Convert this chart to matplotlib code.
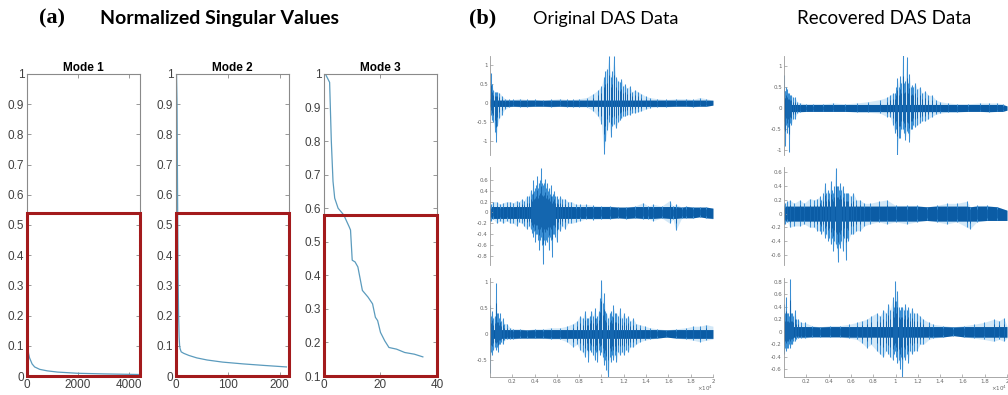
import matplotlib.pyplot as plt
import matplotlib.ticker as mticker
from matplotlib.patches import Rectangle
import numpy as np

# ---- (a) normalized singular values of the three unfoldings ----
mode_titles = ["Mode 1", "Mode 2", "Mode 3"]
mode1_idx = [1, 2, 4, 10, 30, 60, 100, 200, 300, 500, 800, 1200, 2000, 3000, 4400]
mode1_val = [1.0, 0.75, 0.4, 0.15, 0.1, 0.075, 0.06, 0.04, 0.03, 0.022, 0.017,
             0.013, 0.009, 0.007, 0.005]
mode2_idx = [1, 2, 3, 4, 5, 6, 7, 8, 10, 15, 25, 40, 60, 90, 130, 170, 213]
mode2_val = [1.0, 0.9, 0.6, 0.35, 0.2, 0.13, 0.1, 0.09, 0.08, 0.075, 0.068,
             0.06, 0.053, 0.046, 0.04, 0.035, 0.03]
mode3_idx = [0.5, 2, 2.6, 3.2, 3.8, 5, 7, 8.9, 9.4, 10, 11, 12, 13.6, 15.6,
             17.2, 18.2, 19, 20, 21.5, 23, 25.7, 28.6, 32, 35]
mode3_val = [1.0, 0.975, 0.8, 0.68, 0.63, 0.6, 0.58, 0.545, 0.535, 0.445, 0.44,
             0.425, 0.355, 0.335, 0.315, 0.275, 0.265, 0.23, 0.205, 0.185, 0.18,
             0.17, 0.165, 0.157]
mode_xmax = [4450, 218, 40]
mode_xticks = [[0, 2000, 4000], [0, 100, 200], [0, 20, 40]]
mode_ymin = [0, 0, 0.1]
kept_top = [0.54, 0.54, 0.58]   # upper edge of the retained-energy box

# ---- (b) DAS traces: (time x1e4, upper peak, lower peak) ----
orig_1 = [(0.0, 0.1, -0.1), (0.006, 0.8, -0.3), (0.015, 0.5, -0.45), (0.030, 0.35, -0.5),
          (0.045, 0.3, -0.75), (0.054, 0.3, -1.03), (0.066, 0.3, -0.6), (0.084, 0.28, -0.4),
          (0.104, 0.2, -0.3), (0.134, 0.12, -0.15), (0.17, 0.1, -0.1), (0.209, 0.1, -0.08),
          (0.27, 0.12, -0.1), (0.328, 0.1, -0.1), (0.40, 0.1, -0.08), (0.478, 0.08, -0.08),
          (0.55, 0.1, -0.1), (0.627, 0.12, -0.08), (0.69, 0.1, -0.1), (0.746, 0.1, -0.1),
          (0.80, 0.12, -0.1), (0.866, 0.15, -0.1), (0.925, 0.25, -0.2), (0.970, 0.35, -0.35),
          (1.000, 0.45, -0.55), (1.021, 0.7, -1.35), (1.036, 0.85, -1.0), (1.051, 0.9, -0.7),
          (1.066, 1.26, -0.5), (1.081, 0.7, -0.9), (1.096, 0.85, -0.6), (1.110, 1.24, -0.55),
          (1.128, 0.7, -0.65), (1.149, 0.6, -0.5), (1.165, 0.55, -0.45), (1.179, 0.65, -0.4),
          (1.195, 0.45, -0.35), (1.209, 0.5, -0.35), (1.230, 0.4, -0.3), (1.254, 0.45, -0.3),
          (1.275, 0.3, -0.25), (1.299, 0.35, -0.25), (1.330, 0.3, -0.22), (1.358, 0.25, -0.2),
          (1.40, 0.18, -0.15), (1.433, 0.15, -0.12), (1.50, 0.12, -0.1), (1.582, 0.1, -0.1),
          (1.67, 0.12, -0.08), (1.761, 0.12, -0.08), (1.82, 0.1, -0.1), (1.881, 0.15, -0.08),
          (1.94, 0.12, -0.08), (2.0, 0.08, -0.05)]
orig_2 = [(0.0, 0.12, -0.15), (0.006, 0.15, -0.15), (0.03, 0.2, -0.12), (0.06, 0.2, -0.2),
          (0.09, 0.15, -0.15), (0.119, 0.18, -0.2), (0.15, 0.2, -0.15), (0.179, 0.2, -0.2),
          (0.21, 0.18, -0.2), (0.239, 0.22, -0.25), (0.26, 0.2, -0.18), (0.284, 0.25, -0.2),
          (0.305, 0.22, -0.25), (0.328, 0.3, -0.3), (0.346, 0.3, -0.25), (0.364, 0.42, -0.3),
          (0.376, 0.35, -0.38), (0.388, 0.6, -0.45), (0.397, 0.4, -0.35), (0.406, 0.45, -0.55),
          (0.415, 0.5, -0.4), (0.424, 0.68, -0.4), (0.433, 0.45, -0.5), (0.442, 0.55, -0.7),
          (0.450, 0.6, -0.5), (0.457, 0.83, -0.45), (0.465, 0.55, -0.6), (0.472, 0.5, -0.96),
          (0.481, 0.55, -0.5), (0.490, 0.62, -0.6), (0.498, 0.45, -0.5), (0.507, 0.55, -0.55),
          (0.516, 0.4, -0.45), (0.525, 0.45, -0.7), (0.534, 0.35, -0.45), (0.543, 0.5, -0.5),
          (0.555, 0.3, -0.82), (0.564, 0.35, -0.4), (0.573, 0.4, -0.4), (0.585, 0.3, -0.45),
          (0.597, 0.3, -0.55), (0.612, 0.25, -0.3), (0.627, 0.3, -0.35), (0.65, 0.25, -0.25),
          (0.672, 0.25, -0.3), (0.70, 0.2, -0.2), (0.731, 0.2, -0.2), (0.77, 0.15, -0.18),
          (0.806, 0.15, -0.15), (0.86, 0.15, -0.12), (0.925, 0.13, -0.13), (1.0, 0.12, -0.12),
          (1.075, 0.12, -0.12), (1.15, 0.1, -0.1), (1.224, 0.1, -0.12), (1.3, 0.12, -0.1),
          (1.373, 0.18, -0.12), (1.42, 0.12, -0.12), (1.463, 0.15, -0.15), (1.54, 0.12, -0.1),
          (1.612, 0.22, -0.2), (1.64, 0.12, -0.12), (1.666, 0.15, -0.33), (1.72, 0.1, -0.1),
          (1.761, 0.12, -0.1), (1.82, 0.1, -0.1), (1.881, 0.1, -0.08), (1.94, 0.1, -0.1),
          (2.0, 0.08, -0.12)]
orig_3 = [(0.0, 0.55, -0.75), (0.008, 0.35, -0.35), (0.015, 0.45, -0.4), (0.030, 0.3, -0.3),
          (0.042, 0.35, -0.25), (0.054, 0.98, -0.3), (0.062, 0.4, -0.25), (0.069, 0.4, -0.35),
          (0.080, 0.3, -0.2), (0.090, 0.4, -0.2), (0.100, 0.25, -0.15), (0.113, 0.3, -0.2),
          (0.13, 0.2, -0.12), (0.149, 0.2, -0.1), (0.18, 0.12, -0.1), (0.209, 0.1, -0.1),
          (0.27, 0.1, -0.08), (0.328, 0.08, -0.08), (0.40, 0.1, -0.08), (0.478, 0.1, -0.08),
          (0.55, 0.12, -0.1), (0.627, 0.12, -0.1), (0.69, 0.15, -0.15), (0.746, 0.2, -0.25),
          (0.78, 0.25, -0.2), (0.806, 0.35, -0.3), (0.83, 0.3, -0.35), (0.851, 0.45, -0.45),
          (0.866, 0.3, -0.3), (0.881, 0.3, -0.55), (0.895, 0.35, -0.3), (0.910, 0.45, -0.35),
          (0.925, 0.35, -0.4), (0.940, 0.5, -0.5), (0.952, 0.3, -0.35), (0.964, 0.35, -0.55),
          (0.975, 0.45, -0.3), (0.985, 0.7, -0.4), (1.0, 1.05, -0.35), (1.010, 0.6, -0.45),
          (1.021, 0.8, -0.6), (1.033, 0.45, -0.5), (1.045, 0.4, -0.7), (1.063, 0.3, -0.85),
          (1.072, 0.4, -0.45), (1.081, 0.45, -0.55), (1.092, 0.35, -0.4), (1.104, 0.55, -0.5),
          (1.119, 0.4, -0.4), (1.134, 0.4, -0.55), (1.149, 0.35, -0.35), (1.164, 0.5, -0.4),
          (1.18, 0.3, -0.35), (1.2, 0.4, -0.4), (1.22, 0.3, -0.3), (1.239, 0.35, -0.35),
          (1.26, 0.25, -0.25), (1.284, 0.3, -0.25), (1.31, 0.2, -0.2), (1.343, 0.18, -0.15),
          (1.39, 0.15, -0.12), (1.433, 0.12, -0.1), (1.50, 0.1, -0.08), (1.582, 0.08, -0.06),
          (1.67, 0.1, -0.08), (1.761, 0.12, -0.1), (1.82, 0.15, -0.12), (1.881, 0.15, -0.15),
          (1.94, 0.18, -0.12), (2.0, 0.15, -0.1)]
rec_1 = [(0.0, 0.78, -0.5), (0.006, 0.4, -0.3), (0.012, 0.4, -0.9), (0.020, 0.5, -0.4),
         (0.027, 0.45, -0.6), (0.036, 0.35, -0.45), (0.045, 0.35, -1.03), (0.055, 0.3, -0.35),
         (0.066, 0.3, -0.4), (0.080, 0.25, -0.25), (0.096, 0.25, -0.25), (0.12, 0.15, -0.12),
         (0.141, 0.12, -0.1), (0.2, 0.1, -0.08), (0.261, 0.1, -0.08), (0.35, 0.1, -0.08),
         (0.441, 0.12, -0.08), (0.55, 0.1, -0.08), (0.651, 0.12, -0.1), (0.75, 0.15, -0.1),
         (0.861, 0.2, -0.12), (0.92, 0.25, -0.2), (0.951, 0.3, -0.2), (0.975, 0.35, -0.4),
         (0.996, 0.35, -0.6), (1.006, 0.5, -0.5), (1.016, 0.7, -1.1), (1.028, 0.5, -0.7),
         (1.040, 0.75, -0.7), (1.052, 0.6, -0.5), (1.064, 1.25, -0.5), (1.075, 0.6, -0.6),
         (1.085, 0.65, -0.75), (1.100, 1.2, -0.55), (1.112, 0.6, -0.6), (1.124, 0.8, -0.8),
         (1.135, 0.5, -0.5), (1.145, 0.55, -0.5), (1.16, 0.5, -0.4), (1.175, 0.6, -0.45),
         (1.195, 0.45, -0.4), (1.220, 0.5, -0.35), (1.24, 0.35, -0.3), (1.265, 0.4, -0.3),
         (1.295, 0.3, -0.25), (1.325, 0.3, -0.2), (1.36, 0.2, -0.15), (1.400, 0.15, -0.12),
         (1.47, 0.12, -0.1), (1.550, 0.1, -0.1), (1.65, 0.1, -0.08), (1.760, 0.12, -0.08),
         (1.84, 0.12, -0.1), (1.910, 0.12, -0.08), (1.96, 0.1, -0.08), (2.0, 0.05, -0.05)]
rec_2 = [(0.0, 0.12, -0.15), (0.006, 0.15, -0.15), (0.03, 0.18, -0.12), (0.051, 0.2, -0.2),
         (0.09, 0.15, -0.18), (0.141, 0.2, -0.18), (0.18, 0.15, -0.15), (0.231, 0.22, -0.2),
         (0.27, 0.2, -0.2), (0.30, 0.22, -0.25), (0.321, 0.25, -0.25), (0.335, 0.2, -0.3),
         (0.350, 0.3, -0.25), (0.366, 0.45, -0.35), (0.381, 0.3, -0.3), (0.396, 0.35, -0.4),
         (0.407, 0.3, -0.35), (0.417, 0.48, -0.45), (0.429, 0.35, -0.35), (0.441, 0.3, -0.55),
         (0.452, 0.4, -0.4), (0.462, 0.67, -0.45), (0.471, 0.4, -0.5), (0.480, 0.4, -0.7),
         (0.490, 0.35, -0.45), (0.501, 0.45, -0.5), (0.513, 0.35, -0.4), (0.525, 0.4, -0.55),
         (0.539, 0.3, -0.35), (0.552, 0.3, -0.68), (0.564, 0.3, -0.35), (0.576, 0.3, -0.4),
         (0.598, 0.25, -0.3), (0.621, 0.3, -0.3), (0.65, 0.2, -0.25), (0.681, 0.2, -0.25),
         (0.72, 0.15, -0.18), (0.771, 0.15, -0.15), (0.85, 0.18, -0.12), (0.921, 0.2, -0.15),
         (1.0, 0.12, -0.12), (1.100, 0.12, -0.15), (1.19, 0.12, -0.12), (1.280, 0.1, -0.1),
         (1.37, 0.12, -0.12), (1.460, 0.15, -0.15), (1.55, 0.15, -0.12), (1.640, 0.18, -0.2),
         (1.670, 0.1, -0.22), (1.73, 0.12, -0.12), (1.820, 0.12, -0.1), (1.91, 0.1, -0.1),
         (2.0, 0.05, -0.1)]
rec_3 = [(0.0, 0.45, -0.35), (0.008, 0.3, -0.25), (0.015, 0.55, -0.3), (0.025, 0.3, -0.25),
         (0.036, 0.3, -0.25), (0.045, 0.25, -0.2), (0.054, 0.85, -0.25), (0.064, 0.3, -0.2),
         (0.075, 0.3, -0.2), (0.085, 0.25, -0.15), (0.096, 0.35, -0.15), (0.11, 0.2, -0.12),
         (0.126, 0.2, -0.1), (0.15, 0.15, -0.1), (0.186, 0.15, -0.1), (0.25, 0.1, -0.08),
         (0.321, 0.08, -0.08), (0.41, 0.1, -0.08), (0.501, 0.1, -0.08), (0.58, 0.12, -0.1),
         (0.651, 0.15, -0.12), (0.70, 0.18, -0.18), (0.741, 0.2, -0.25), (0.78, 0.25, -0.2),
         (0.831, 0.3, -0.3), (0.86, 0.25, -0.35), (0.891, 0.35, -0.4), (0.915, 0.3, -0.3),
         (0.936, 0.45, -0.35), (0.955, 0.35, -0.4), (0.975, 0.55, -0.45), (0.987, 0.4, -0.35),
         (0.999, 0.82, -0.3), (1.008, 0.5, -0.4), (1.016, 0.65, -0.5), (1.028, 0.4, -0.45),
         (1.040, 0.35, -0.6), (1.050, 0.4, -0.4), (1.061, 0.4, -0.72), (1.073, 0.35, -0.4),
         (1.085, 0.45, -0.45), (1.100, 0.35, -0.35), (1.115, 0.4, -0.5), (1.13, 0.3, -0.3),
         (1.145, 0.38, -0.35), (1.165, 0.3, -0.3), (1.190, 0.3, -0.3), (1.22, 0.25, -0.2),
         (1.250, 0.2, -0.2), (1.30, 0.15, -0.12), (1.340, 0.12, -0.1), (1.43, 0.1, -0.08),
         (1.520, 0.08, -0.06), (1.61, 0.1, -0.08), (1.700, 0.12, -0.1), (1.79, 0.15, -0.12),
         (1.880, 0.2, -0.15), (1.93, 0.18, -0.12), (1.970, 0.22, -0.15), (2.0, 0.1, -0.1)]

noise_band = [0.085, 0.11, 0.085]       # background noise level per row
trace_ylim = [[(-1.37, 1.25), (-0.97, 0.84), (-0.83, 1.08)],
              [(-1.11, 1.23), (-0.75, 0.68), (-0.72, 0.86)]]
trace_yticks = [[[-1, -0.5, 0, 0.5, 1], [-0.8, -0.6, -0.4, -0.2, 0, 0.2, 0.4, 0.6],
                 [-0.5, 0, 0.5, 1]],
                [[-1, -0.5, 0, 0.5, 1], [-0.6, -0.4, -0.2, 0, 0.2, 0.4, 0.6],
                 [-0.6, -0.4, -0.2, 0, 0.2, 0.4, 0.6, 0.8]]]
time_ticks = [0.2, 0.4, 0.6, 0.8, 1, 1.2, 1.4, 1.6, 1.8, 2]

fig = plt.figure(figsize=(10.08, 3.95), dpi=100)

# headers
fig.text(0.039, 0.953, "(a)", family="Liberation Serif", weight="bold", fontsize=16, va="center")
fig.text(0.099, 0.953, "Normalized Singular Values", family="Lato", weight="bold",
         fontsize=14, va="center")
fig.text(0.465, 0.953, "(b)", family="Liberation Serif", weight="bold", fontsize=16, va="center")
fig.text(0.529, 0.953, "Original DAS Data", family="Lato", fontsize=13, va="center")
fig.text(0.791, 0.953, "Recovered DAS Data", family="Lato", fontsize=13.5, va="center")

mode_x = [mode1_idx, mode2_idx, mode3_idx]
mode_y = [mode1_val, mode2_val, mode3_val]
a_left = [0.0268, 0.1746, 0.3214]
for i in range(3):
    ax = fig.add_axes([a_left[i], 0.0481, 0.1121, 0.7646])
    ax.plot(mode_x[i], mode_y[i], color="#5b9bbd", lw=0.9)
    ax.set_xlim(0, mode_xmax[i])
    ax.set_ylim(mode_ymin[i], 1)
    ax.set_xticks(mode_xticks[i])
    ax.set_yticks(np.round(np.arange(mode_ymin[i], 1.001, 0.1), 1))
    ax.yaxis.set_major_formatter(mticker.FuncFormatter(lambda v, _: f"{v:g}"))
    ax.tick_params(direction="in", length=3, width=0.6, color="#888888",
                   labelsize=8.5, labelcolor="#404040", pad=2,
                   top=True, right=True)
    for s in ax.spines.values():
        s.set_color("#8a8a8a")
        s.set_linewidth(0.8)
    for lab in ax.get_xticklabels() + ax.get_yticklabels():
        lab.set_family("Liberation Sans")
    ax.set_title(mode_titles[i], fontsize=8.5, weight="bold", pad=2,
                 family="Liberation Sans")
    ax.add_patch(Rectangle((0, mode_ymin[i]), mode_xmax[i], kept_top[i] - mode_ymin[i],
                           fill=False, ec="#a31a1c", lw=2.2, clip_on=False, zorder=5))

traces = [[orig_1, orig_2, orig_3], [rec_1, rec_2, rec_3]]
col_left = [0.4861, 0.7778]
row_bottom = [0.6076, 0.3291, 0.0456]
row_height = [0.2506, 0.2481, 0.2506]
for c in range(2):
    for r in range(3):
        ax = fig.add_axes([col_left[c], row_bottom[r], 0.2212, row_height[r]])
        t, hi, lo = (np.array(v) for v in zip(*traces[c][r]))
        b = noise_band[r]
        # light haze of the full oscillation envelope
        ax.fill_between(t, lo, hi, color="#a9d2f0", alpha=0.5, lw=0)
        # individual peaks
        ax.vlines(t, lo, hi, color="#3a8ed3", lw=0.75)
        # dense noise floor
        ax.fill_between(t, np.maximum(lo, -b), np.minimum(hi, b), color="#0b5ca5", lw=0)
        ax.vlines(t, lo * 0.6, hi * 0.6, color="#0d5fa8", lw=0.6)
        ax.set_xlim(0, 2)
        ax.set_ylim(*trace_ylim[c][r])
        ax.set_yticks(trace_yticks[c][r])
        ax.yaxis.set_major_formatter(mticker.FuncFormatter(lambda v, _: f"{v:g}"))
        for s in ["top", "right"]:
            ax.spines[s].set_visible(False)
        for s in ["left", "bottom"]:
            ax.spines[s].set_color("#9a9a9a")
            ax.spines[s].set_linewidth(0.6)
        ax.tick_params(direction="in", length=2, width=0.5, color="#9a9a9a",
                       labelsize=4, labelcolor="#666666", pad=1.5)
        if r < 2:
            ax.spines["bottom"].set_visible(False)
            ax.set_xticks([])
        else:
            ax.set_xticks(time_ticks)
            ax.xaxis.set_major_formatter(mticker.FuncFormatter(lambda v, _: f"{v:g}"))
            ax.text(1.0, -0.115, r"$\times10^{4}$", transform=ax.transAxes,
                    ha="right", va="center", fontsize=4, color="#666666")

fig.savefig("out.png", dpi=100)
